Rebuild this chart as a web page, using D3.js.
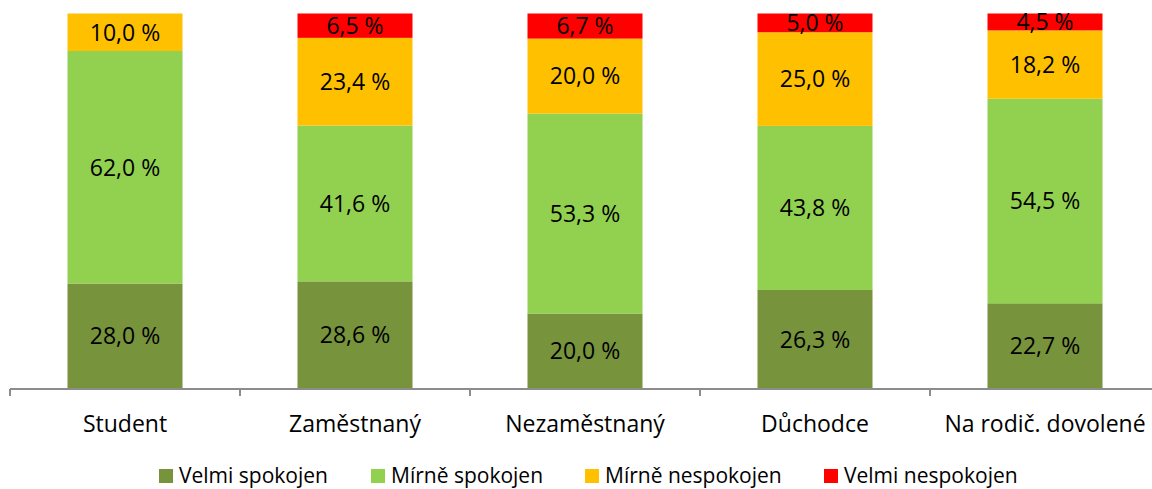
<!DOCTYPE html>
<html lang="cs">
<head>
<meta charset="UTF-8">
<title>Spokojenost</title>
<script src="https://cdn.jsdelivr.net/npm/d3@7"></script>
<style>
    body { margin: 0; background: #fff; }
    svg text { font-family: "Open Sans", "Lato", sans-serif; fill: #000; }
    .axis path, .axis line { stroke: #8c8c8c; stroke-width: 1.3; fill: none; shape-rendering: crispEdges; }
</style>
</head>
<body>
<svg width="1152" height="489"></svg>
<script>
var categories = ["Student", "Zaměstnaný", "Nezaměstnaný", "Důchodce", "Na rodič. dovolené"];
var seriesNames = ["Velmi spokojen", "Mírně spokojen", "Mírně nespokojen", "Velmi nespokojen"];
var velmiSpokojen = [28.0, 28.6, 20.0, 26.3, 22.7];
var mirneSpokojen = [62.0, 41.6, 53.3, 43.8, 54.5];
var mirneNespokojen = [10.0, 23.4, 20.0, 25.0, 18.2];
var velmiNespokojen = [0, 6.5, 6.7, 5.0, 4.5];
var colors = ["#77933c", "#92d050", "#ffc000", "#ff0000"];

var seriesValues = [velmiSpokojen, mirneSpokojen, mirneNespokojen, velmiNespokojen];
var rows = categories.map(function (c, i) {
    var r = {cat: c};
    seriesNames.forEach(function (s, j) { r[s] = seriesValues[j][i]; });
    return r;
});

var svg = d3.select("svg");
var x = d3.scaleBand().domain(categories).range([10, 1160]).paddingInner(0.5).paddingOuter(0.25);
var y = d3.scaleLinear().domain([0, 1]).range([388.5, 13.5]);

var stacked = d3.stack().keys(seriesNames).offset(d3.stackOffsetExpand)(rows);

var groups = svg.selectAll(".series")
    .data(stacked)
    .enter().append("g")
    .attr("fill", function (d, i) { return colors[i]; });

groups.selectAll("rect")
    .data(function (d) { return d; })
    .enter().append("rect")
    .attr("x", function (d) { return x(d.data.cat); })
    .attr("width", x.bandwidth())
    .attr("y", function (d) { return y(d[1]); })
    .attr("height", function (d) { return y(d[0]) - y(d[1]); });

groups.each(function (s) {
    d3.select(this).selectAll("text")
        .data(s.filter(function (d) { return d.data[s.key] > 0; }))
        .enter().append("text")
        .attr("x", function (d) { return x(d.data.cat) + x.bandwidth() / 2; })
        .attr("y", function (d) { return (y(d[0]) + y(d[1])) / 2; })
        .attr("dy", "0.36em")
        .attr("text-anchor", "middle")
        .style("font-size", "23px")
        .text(function (d) { return d.data[s.key].toFixed(1).replace(".", ",") + " %"; });
});

// osa x
var axisG = svg.append("g").attr("class", "axis");
axisG.append("line").attr("x1", 10).attr("x2", 1152).attr("y1", 389).attr("y2", 389);
var bounds = categories.map(function (c) { return x(c) - x.step() * 0.25; });
axisG.selectAll(".tick").data(bounds).enter().append("line")
    .attr("x1", function (d) { return d; }).attr("x2", function (d) { return d; })
    .attr("y1", 389).attr("y2", 396);
svg.selectAll(".catLabel").data(categories).enter().append("text")
    .attr("x", function (d) { return x(d) + x.bandwidth() / 2; })
    .attr("y", 432)
    .attr("text-anchor", "middle")
    .style("font-size", "23px")
    .text(function (d) { return d; });

// legenda
var legendX = [159, 371, 585, 824];
var legend = svg.selectAll(".leg").data(seriesNames).enter().append("g")
    .attr("transform", function (d, i) { return "translate(" + legendX[i] + ",469)"; });
legend.append("rect").attr("width", 14).attr("height", 14)
    .attr("fill", function (d, i) { return colors[i]; });
legend.append("text").attr("x", 20).attr("y", 14)
    .style("font-size", "21px")
    .text(function (d) { return d; });
</script>
</body>
</html>
